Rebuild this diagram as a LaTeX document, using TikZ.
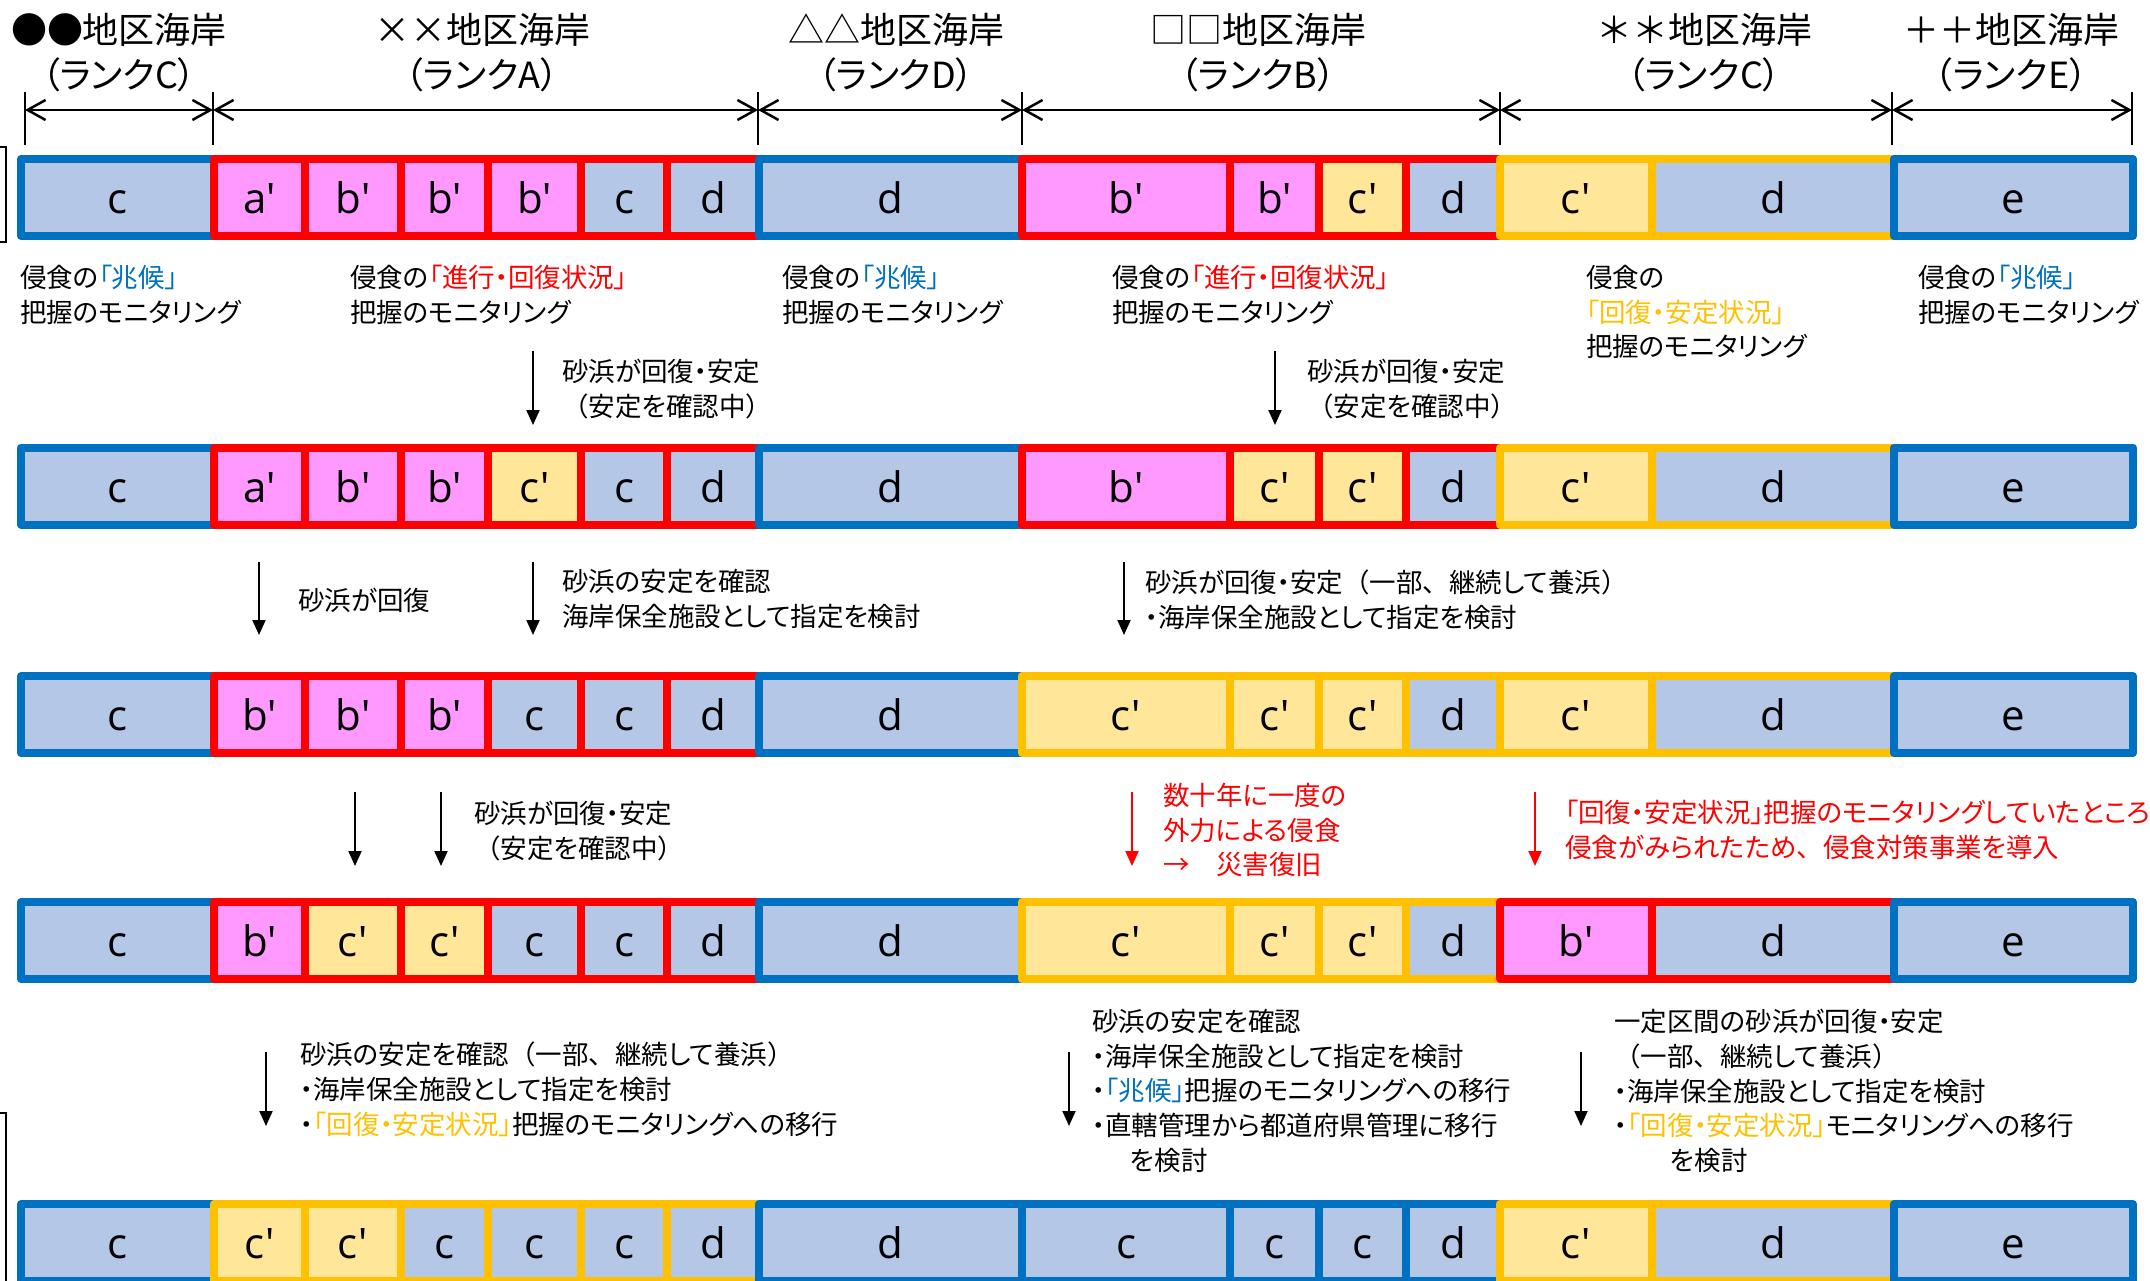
\documentclass[tikz,border=0pt]{standalone}
\usepackage{fontspec}
\usetikzlibrary{arrows.meta}
\newfontfamily\jpf[RawFeature=+palt]{Noto Sans CJK JP}
\newfontfamily\jpn{Noto Sans CJK JP}
\newfontfamily\jph[RawFeature=+palt]{Noto Sans CJK JP}
\newfontfamily\latf{Open Sans}
\newcommand\fw[1]{{\jpn#1}}
\definecolor{cBlue}{HTML}{0070C0}
\definecolor{cRed}{HTML}{FF0000}
\definecolor{cYel}{HTML}{FFC000}
\definecolor{fB}{HTML}{B4C7E7}
\definecolor{fP}{HTML}{FF99FF}
\definecolor{fY}{HTML}{FFE699}
\colorlet{cB}{cBlue}
\colorlet{cR}{cRed}
\colorlet{cY}{cYel}
\tikzset{
  cellbox/.style={rectangle, line width=8pt, line join=round, inner sep=0pt,
    minimum height=77pt, text height=32pt, text depth=0pt,
    font=\latf\fontsize{42}{50}\selectfont},
  txt/.style={font=\jpf\fontsize{26.5}{34.7}\selectfont, inner sep=0pt,
    anchor=north west, align=left},
  hdr/.style={font=\jpn\fontsize{36}{45}\selectfont, inner sep=0pt, align=center},
  dnarrow/.style={line width=2pt, -{Triangle[length=15pt,width=13pt]}},
  dimarrow/.style={line width=2.5pt,
    {Straight Barb[length=18pt,width=20pt]}-{Straight Barb[length=18pt,width=20pt]}},
  tickline/.style={line width=1.3pt},
  bracketline/.style={line width=1.5pt},
}
\newcommand\drawrow[3]{%
  \foreach \xa/\xb/\fc/\dc/\lb [count=\i] in {#3} {%
    \node[cellbox, fill=\fc, draw=\dc, minimum width={\xb-\xa}] (r#1c\i) at ({(\xa+\xb)/2},#2) {\lb};
  }}
\begin{document}
\begin{tikzpicture}[x=1pt,y=-1pt]
\useasboundingbox (0,0) rectangle (2150,1281);

% header
\node[hdr] (h1) at (119,53) {●●地区海岸\\{\jph（ランクC）}};
\node[hdr] (h2) at (482,53) {××地区海岸\\{\jph（ランクA）}};
\node[hdr] (h3) at (896,53) {△△地区海岸\\{\jph（ランクD）}};
\node[hdr] (h4) at (1258,53) {□□地区海岸\\{\jph（ランクB）}};
\node[hdr] (h5) at (1704,53) {＊＊地区海岸\\{\jph（ランクC）}};
\node[hdr] (h6) at (2011,53) {＋＋地区海岸\\{\jph（ランクE）}};

\foreach \n/\x in {0/25,1/213,2/758,3/1022,4/1500,5/1892,6/2132} {
  \coordinate (t\n) at (\x,110);
  \coordinate (t\n u) at (\x,92);
  \coordinate (t\n d) at (\x,145);
  \draw[tickline] (t\n u) -- (t\n d);
}
\draw[dimarrow] (t0) -- (t1);
\draw[dimarrow] (t1) -- (t2);
\draw[dimarrow] (t2) -- (t3);
\draw[dimarrow] (t3) -- (t4);
\draw[dimarrow] (t4) -- (t5);
\draw[dimarrow] (t5) -- (t6);

% left edge brackets
\draw[bracketline] (-3,147) -- (6,147) -- (6,242) -- (-3,242);
\draw[bracketline] (-3,1113) -- (6,1113) -- (6,1290);

% rows
\drawrow{1}{197.5}{21/214/fB/cB/c,214/305/fP/cR/a',305/401/fP/cR/b',401/488/fP/cR/b',488/581/fP/cR/b',581/667/fB/cR/c,667/759/fB/cR/d,759/1022/fB/cB/d,1022/1230/fP/cR/b',1230/1319/fP/cR/b',1319/1406/fY/cR/c',1406/1500/fB/cR/d,1500/1652/fY/cY/c',1652/1894/fB/cY/d,1894/2133/fB/cB/e}
\drawrow{2}{486}{21/214/fB/cB/c,214/305/fP/cR/a',305/401/fP/cR/b',401/488/fP/cR/b',488/581/fY/cR/c',581/667/fB/cR/c,667/759/fB/cR/d,759/1022/fB/cB/d,1022/1230/fP/cR/b',1230/1319/fY/cR/c',1319/1406/fY/cR/c',1406/1500/fB/cR/d,1500/1652/fY/cY/c',1652/1894/fB/cY/d,1894/2133/fB/cB/e}
\drawrow{3}{714.5}{21/214/fB/cB/c,214/305/fP/cR/b',305/401/fP/cR/b',401/488/fP/cR/b',488/581/fB/cR/c,581/667/fB/cR/c,667/759/fB/cR/d,759/1022/fB/cB/d,1022/1230/fY/cY/c',1230/1319/fY/cY/c',1319/1406/fY/cY/c',1406/1500/fB/cY/d,1500/1652/fY/cY/c',1652/1894/fB/cY/d,1894/2133/fB/cB/e}
\drawrow{4}{940.5}{21/214/fB/cB/c,214/305/fP/cR/b',305/401/fY/cR/c',401/488/fY/cR/c',488/581/fB/cR/c,581/667/fB/cR/c,667/759/fB/cR/d,759/1022/fB/cB/d,1022/1230/fY/cY/c',1230/1319/fY/cY/c',1319/1406/fY/cY/c',1406/1500/fB/cY/d,1500/1652/fP/cR/b',1652/1894/fB/cR/d,1894/2133/fB/cB/e}
\drawrow{5}{1242.5}{21/214/fB/cB/c,214/305/fY/cY/c',305/401/fY/cY/c',401/488/fB/cY/c,488/581/fB/cY/c,581/667/fB/cY/c,667/759/fB/cY/d,759/1022/fB/cB/d,1022/1230/fB/cB/c,1230/1319/fB/cB/c,1319/1406/fB/cB/c,1406/1500/fB/cB/d,1500/1652/fY/cY/c',1652/1894/fB/cY/d,1894/2133/fB/cB/e}

% monitoring texts under row 1
\node[txt] (m1) at (20,265) {侵食の\textcolor{cBlue}{「兆候」}\\把握のモニタリング};
\node[txt] (m2) at (350,265) {侵食の\textcolor{cRed}{「進行・回復状況」}\\把握のモニタリング};
\node[txt] (m3) at (782,265) {侵食の\textcolor{cBlue}{「兆候」}\\把握のモニタリング};
\node[txt] (m4) at (1112,265) {侵食の\textcolor{cRed}{「進行・回復状況」}\\把握のモニタリング};
\node[txt] (m5) at (1586,265) {侵食の\\\textcolor{cYel}{「回復・安定状況」}\\把握のモニタリング};
\node[txt] (m6) at (1918,265) {侵食の\textcolor{cBlue}{「兆候」}\\把握のモニタリング};

% arrows row1 -> row2
\coordinate (a1s) at (533,351); \coordinate (a1e) at (533,425);
\coordinate (a2s) at (1275,351); \coordinate (a2e) at (1275,425);
\draw[dnarrow] (a1s) -- (a1e);
\draw[dnarrow] (a2s) -- (a2e);
\node[txt] (s1) at (562,359) {砂浜が回復・安定\\\fw{（}安定を確認中\fw{）}};
\node[txt] (s2) at (1307,359) {砂浜が回復・安定\\\fw{（}安定を確認中\fw{）}};

% arrows row2 -> row3
\coordinate (a3s) at (259,562); \coordinate (a3e) at (259,635);
\coordinate (a4s) at (533,562); \coordinate (a4e) at (533,635);
\coordinate (a5s) at (1124,562); \coordinate (a5e) at (1124,635);
\draw[dnarrow] (a3s) -- (a3e);
\draw[dnarrow] (a4s) -- (a4e);
\draw[dnarrow] (a5s) -- (a5e);
\node[txt] (s3) at (298,588) {砂浜が回復};
\node[txt] (s4) at (562,569.5) {砂浜の安定を確認\\海岸保全施設として指定を検討};
\node[txt] (s5) at (1145,569.5) {砂浜が回復・安定\fw{（}一部\fw{、}継続して養浜\fw{）}\\・海岸保全施設として指定を検討};

% arrows row3 -> row4
\coordinate (a6s) at (355,792); \coordinate (a6e) at (355,866);
\coordinate (a7s) at (441,792); \coordinate (a7e) at (441,866);
\coordinate (a8s) at (1132,792); \coordinate (a8e) at (1132,866);
\coordinate (a9s) at (1535,792); \coordinate (a9e) at (1535,866);
\draw[dnarrow] (a6s) -- (a6e);
\draw[dnarrow] (a7s) -- (a7e);
\draw[dnarrow, cRed] (a8s) -- (a8e);
\draw[dnarrow, cRed] (a9s) -- (a9e);
\node[txt] (s6) at (474,801) {砂浜が回復・安定\\\fw{（}安定を確認中\fw{）}};
\node[txt, text=cRed] (s7) at (1163,783) {数十年に一度の\\外力による侵食\\→\fw{　}災害復旧};
\node[txt, text=cRed] (s8) at (1565,800) {「回復・安定状況」把握のモニタリングしていたところ\\侵食がみられたため\fw{、}侵食対策事業を導入};

% arrows row4 -> row5
\coordinate (a10s) at (266,1052); \coordinate (a10e) at (266,1126);
\coordinate (a11s) at (1069,1052); \coordinate (a11e) at (1069,1126);
\coordinate (a12s) at (1581,1052); \coordinate (a12e) at (1581,1126);
\draw[dnarrow] (a10s) -- (a10e);
\draw[dnarrow] (a11s) -- (a11e);
\draw[dnarrow] (a12s) -- (a12e);
\node[txt] (s9) at (300,1042) {砂浜の安定を確認\fw{（}一部\fw{、}継続して養浜\fw{）}\\・海岸保全施設として指定を検討\\・\textcolor{cYel}{「回復・安定状況」}把握のモニタリングへの移行};
\node[txt] (s10) at (1092,1009) {砂浜の安定を確認\\・海岸保全施設として指定を検討\\・\textcolor{cBlue}{「兆候」}把握のモニタリングへの移行\\・直轄管理から都道府県管理に移行\\\hspace*{38pt}を検討};
\node[txt] (s11) at (1614,1009) {一定区間の砂浜が回復・安定\\\fw{（}一部\fw{、}継続して養浜\fw{）}\\・海岸保全施設として指定を検討\\・\textcolor{cYel}{「回復・安定状況」}モニタリングへの移行\\\hspace*{56pt}を検討};
\end{tikzpicture}
\end{document}
